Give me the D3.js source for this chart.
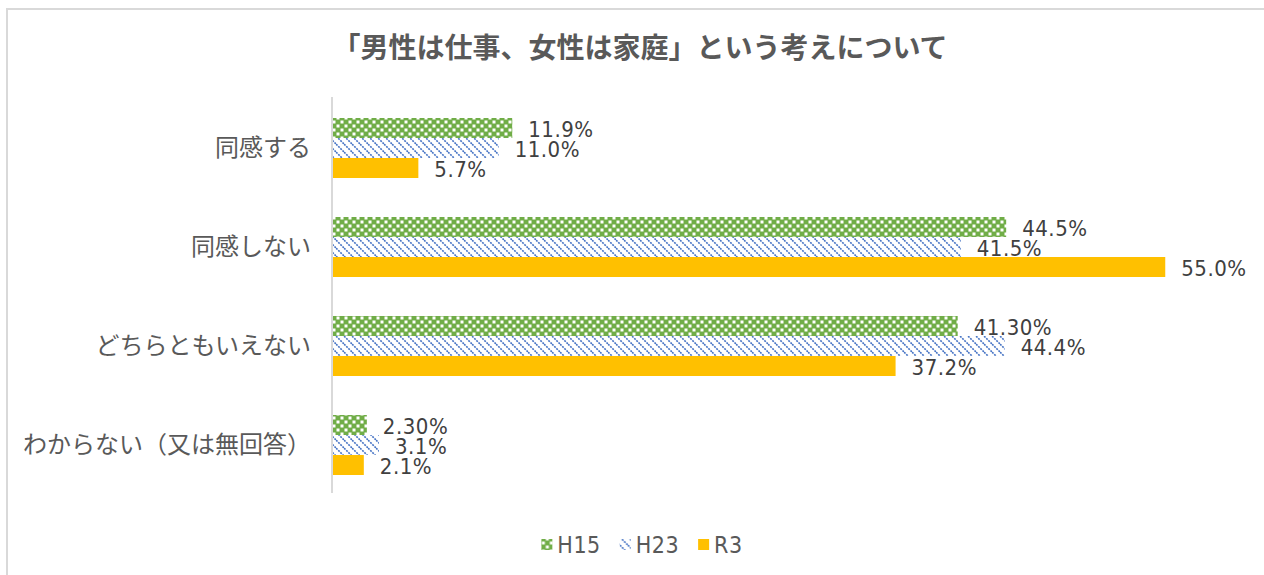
<!DOCTYPE html>
<html>
<head>
<meta charset="utf-8">
<script src="https://cdn.jsdelivr.net/npm/d3@7"></script>
<style>
  body { margin: 0; background: #fff; }
  .cat { font-family: "Noto Sans CJK JP", sans-serif; font-size: 24px; fill: #595959; }
  .val { font-family: "DejaVu Sans Condensed", "Roboto", sans-serif; font-size: 22px; fill: #404040; letter-spacing: 0.5px; }
  .leg { font-family: "DejaVu Sans Condensed", "Roboto", sans-serif; font-size: 23px; fill: #595959; letter-spacing: 0.5px; }
</style>
</head>
<body>
<script>
//chart data
var categories = ["同感する", "同感しない", "どちらともいえない", "わからない（又は無回答）"];
var seriesNames = ["H15", "H23", "R3"];
var h15 = [11.9, 44.5, 41.3, 2.3];
var h23 = [11.0, 41.5, 44.4, 3.1];
var r3 = [5.7, 55.0, 37.2, 2.1];
var h15Labels = ["11.9%", "44.5%", "41.30%", "2.30%"];
var h23Labels = ["11.0%", "41.5%", "44.4%", "3.1%"];
var r3Labels = ["5.7%", "55.0%", "37.2%", "2.1%"];
var xMax = 60;

var title = "「男性は仕事、女性は家庭」という考えについて";

window.onload = drawChart();

function drawChart(){
    var width = 1264,
        height = 575;

    var svg = d3.select("body")
        .append("svg")
        .attr("width", width)
        .attr("height", height);

    //patterns for the fills
    var defs = svg.append("defs");

    var checker = defs.append("pattern")
        .attr("id", "pat-h15")
        .attr("patternUnits", "userSpaceOnUse")
        .attr("width", 8)
        .attr("height", 8);
    checker.append("rect").attr("width", 8).attr("height", 8).attr("fill", "#70AD47");
    checker.append("rect").attr("x", 0.5).attr("y", 4.5).attr("width", 3).attr("height", 3).attr("fill", "#fff");
    checker.append("rect").attr("x", 4.5).attr("y", 0.5).attr("width", 3).attr("height", 3).attr("fill", "#fff");

    var diag = defs.append("pattern")
        .attr("id", "pat-h23")
        .attr("patternUnits", "userSpaceOnUse")
        .attr("width", 8)
        .attr("height", 8);
    diag.append("rect").attr("width", 8).attr("height", 8).attr("fill", "#fff");
    diag.append("path")
        .attr("d", "M-2,-2 L10,10 M-2,6 L2,10 M6,-2 L10,2")
        .attr("stroke", "#4472C4")
        .attr("stroke-width", 1.6)
        .attr("stroke-dasharray", "2,1");

    var fills = ["url(#pat-h15)", "url(#pat-h23)", "#FFC000"];

    //outer chart border
    svg.append("rect")
        .attr("x", 7)
        .attr("y", 9)
        .attr("width", 1300)
        .attr("height", 600)
        .attr("fill", "none")
        .attr("stroke", "#d9d9d9")
        .attr("stroke-width", 2);

    //title
    svg.append("text")
        .attr("x", 640)
        .attr("y", 58)
        .attr("text-anchor", "middle")
        .style("font-family", "'Noto Sans CJK JP', sans-serif")
        .style("font-size", "28px")
        .style("font-weight", "bold")
        .style("fill", "#595959")
        .text(title);

    //scales
    var x = d3.scaleLinear()
        .domain([0, xMax])
        .range([332, 1241]);

    var y = d3.scaleBand()
        .domain(categories)
        .range([98.5, 494.5])
        .paddingInner(0.394)
        .paddingOuter(0.197);

    var ySub = d3.scaleBand()
        .domain(seriesNames)
        .range([0, y.bandwidth()]);

    var seriesValues = [h15, h23, r3];
    var seriesLabels = [h15Labels, h23Labels, r3Labels];

    var rows = [];
    seriesNames.forEach(function(s, si){
        categories.forEach(function(c, ci){
            rows.push({series: s, si: si, cat: c, value: seriesValues[si][ci], label: seriesLabels[si][ci]});
        });
    });

    //bars
    svg.selectAll(".bar")
        .data(rows)
        .enter()
        .append("rect")
        .attr("class", "bar")
        .attr("x", x(0))
        .attr("y", function(d){ return y(d.cat) + ySub(d.series); })
        .attr("width", function(d){ return x(d.value) - x(0); })
        .attr("height", ySub.bandwidth())
        .attr("fill", function(d){ return fills[d.si]; });

    //value labels
    svg.selectAll(".val")
        .data(rows)
        .enter()
        .append("text")
        .attr("class", "val")
        .attr("x", function(d){ return x(d.value) + 16; })
        .attr("y", function(d){ return y(d.cat) + ySub(d.series) + ySub.bandwidth() / 2 + 9; })
        .text(function(d){ return d.label; });

    //category axis
    svg.append("line")
        .attr("x1", x(0))
        .attr("x2", x(0))
        .attr("y1", 97)
        .attr("y2", 493)
        .attr("stroke", "#d9d9d9")
        .attr("stroke-width", 2);

    svg.selectAll(".cat")
        .data(categories)
        .enter()
        .append("text")
        .attr("class", "cat")
        .attr("x", 311)
        .attr("y", function(d){ return y(d) + y.bandwidth() / 2; })
        .attr("dy", "0.35em")
        .attr("text-anchor", "end")
        .text(function(d){ return d; });

    //legend
    var legend = svg.append("g");
    var lx = 0;
    seriesNames.forEach(function(s, i){
        var item = legend.append("g").attr("transform", "translate(" + lx + ",0)");
        item.append("rect")
            .attr("x", 0)
            .attr("y", -6)
            .attr("width", 11)
            .attr("height", 11)
            .attr("fill", fills[i]);
        var t = item.append("text")
            .attr("class", "leg")
            .attr("x", 16)
            .attr("y", 8)
            .text(s);
        lx += 16 + t.node().getComputedTextLength() + 19;
    });
    var legW = lx - 19;
    legend.attr("transform", "translate(" + (642 - legW / 2) + ",545)");
}
</script>
</body>
</html>
